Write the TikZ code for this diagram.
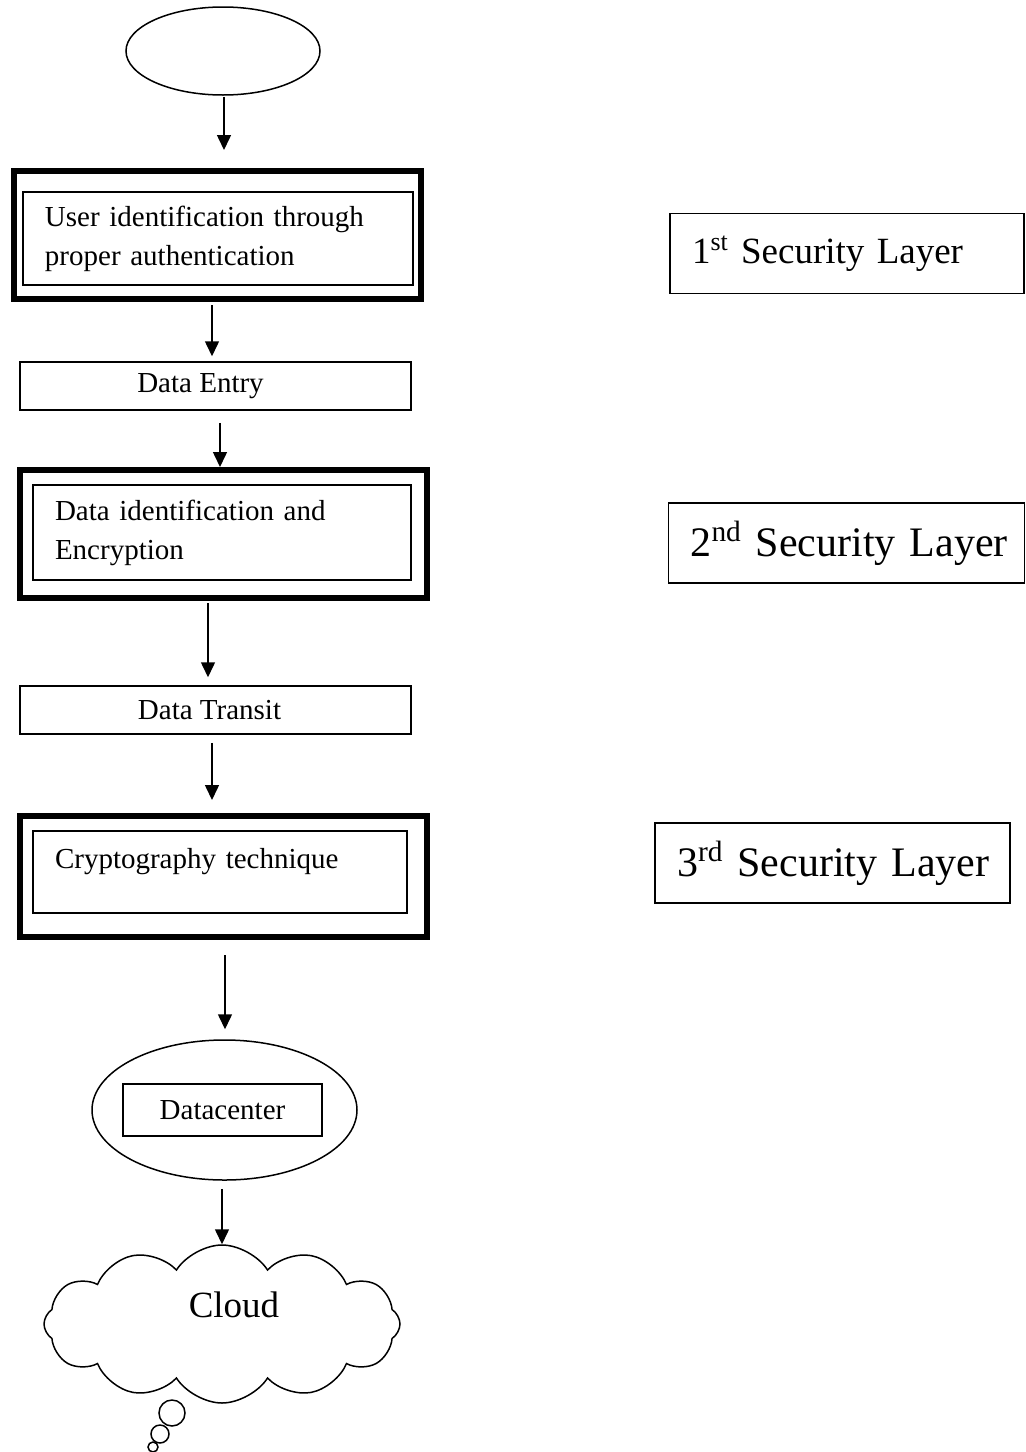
\documentclass[tikz,border=0pt]{standalone}
\usepackage{fontspec}
\setmainfont{Liberation Serif}
\usetikzlibrary{
  arrows.meta,
  shapes.geometric,
  shapes.symbols
}
\tikzset{
  thinline/.style={ draw=black, line width=0.75pt },
  layerframe/.style={
    draw=black,
    line width=3pt,
    minimum width=203.5pt,
    minimum height=64pt,
    inner sep=0pt
  },
  stepbox/.style={
    thinline,
    align=left,
    inner xsep=11pt,
    inner ysep=0pt,
    font=\fontsize{14.5}{19.5}\selectfont
  },
  plainbox/.style={
    thinline,
    minimum width=195.5pt,
    minimum height=24pt,
    inner sep=0pt,
    font=\fontsize{14.5}{17}\selectfont
  },
  layerlabel/.style={
    thinline,
    minimum height=40pt,
    align=left,
    inner xsep=11pt,
    inner ysep=0pt
  },
  bubble/.style={ thinline, circle, inner sep=0pt },
  arr/.style={
    -{Triangle[length=7.5pt,width=7pt]},
    line width=0.75pt
  }
}
\begin{document}
\begin{tikzpicture}[x=0.5pt,y=-0.5pt]
\useasboundingbox (0,0) rectangle (1026,1452);

% main flow
\node[thinline, ellipse, minimum width=97pt, minimum height=44pt, inner sep=0pt] (start) at (223,51) {};

\node[layerframe] (authframe) at (217.5,235) {};
\node[stepbox, text width=173pt, minimum height=46.5pt] (auth) at (218,238.5)
  {User identification through\\proper authentication};

\node[plainbox] (entry) at (215.5,386) {\hspace*{-15pt}Data Entry};

\node[layerframe] (encframe) at (223.5,534) {};
\node[stepbox, text width=167pt, minimum height=47.5pt] (enc) at (222,532.5)
  {Data identification and\\Encryption};

\node[plainbox] (transit) at (215.5,710) {\hspace*{-6pt}Data Transit};

\node[layerframe, minimum height=60.5pt] (cryptframe) at (223.5,876.5) {};
\node[stepbox, text width=165pt, minimum height=41pt] (crypt) at (220,872)
  {Cryptography technique\\[-6pt]\mbox{}};

\node[thinline, ellipse, minimum width=132.5pt, minimum height=70pt, inner sep=0pt] (dcshell) at (224.5,1110) {};
\node[plainbox, minimum width=99.5pt, minimum height=26pt] (dc) at (222.5,1110) {Datacenter};

\node[thinline, cloud, cloud puffs=12, cloud puff arc=115, cloud ignores aspect,
  minimum width=178pt, minimum height=79pt, inner sep=0pt, text depth=19pt,
  font=\fontsize{18.5}{22}\selectfont] (cloud) at (222,1324) {\hspace*{12pt}Cloud};

\node[bubble, minimum size=13pt] (bubbleA) at (172,1413) {};
\node[bubble, minimum size=9pt] (bubbleB) at (160,1434) {};
\node[bubble, minimum size=5pt] (bubbleC) at (153,1447) {};

% security layers
\node[layerlabel, text width=155pt, font=\fontsize{18.5}{22}\selectfont] (layer1) at (847,253.5)
  {\mbox{1\textsuperscript{st} Security Layer}};
\node[layerlabel, text width=156pt, font=\fontsize{21}{25}\selectfont] (layer2) at (846.5,543)
  {\mbox{2\textsuperscript{nd} Security Layer}};
\node[layerlabel, text width=155.5pt, font=\fontsize{21}{25}\selectfont] (layer3) at (832.5,863)
  {\mbox{3\textsuperscript{rd} Security Layer}};

% arrows
\draw[arr, shorten <=0.5pt, shorten >=9pt] ([xshift=0.5pt]start.south) -- ([xshift=0.5pt]start.south |- authframe.north);
\draw[arr, shorten <=1.5pt, shorten >=2.5pt] ([xshift=-2.75pt]authframe.south) -- ([xshift=-2.75pt]authframe.south |- entry.north);
\draw[arr, shorten <=6pt] ([xshift=2.25pt]entry.south) -- ([xshift=2.25pt]entry.south |- encframe.north);
\draw[arr, shorten <=1pt, shorten >=4pt] ([xshift=-7.75pt]encframe.south) -- ([xshift=-7.75pt]encframe.south |- transit.north);
\draw[arr, shorten <=4pt, shorten >=6.5pt] ([xshift=-1.75pt]transit.south) -- ([xshift=-1.75pt]transit.south |- cryptframe.north);
\draw[arr, shorten <=7.5pt, shorten >=5pt] ([xshift=0.75pt]cryptframe.south) -- ([xshift=0.75pt]cryptframe.south |- dcshell.north);
\draw[arr, shorten <=4pt] ([xshift=-1.25pt]dcshell.south) -- ([xshift=-1.25pt]dcshell.south |- cloud.north);
\end{tikzpicture}
\end{document}
